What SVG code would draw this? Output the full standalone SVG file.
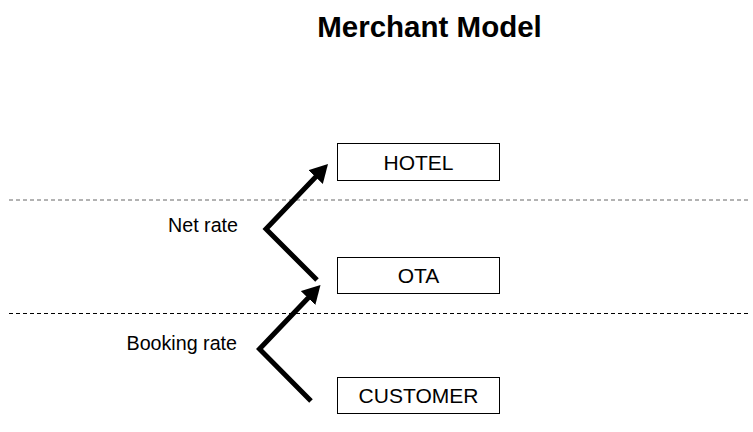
<svg xmlns="http://www.w3.org/2000/svg" width="753" height="432" viewBox="0 0 753 432">
<defs>
<style>
.box{fill:#fff;stroke:#000;stroke-width:1}
.bt{font-family:"Liberation Sans",Arial,sans-serif;font-size:21px;fill:#000;text-anchor:middle}
.lbl{font-family:"Liberation Sans",Arial,sans-serif;font-size:19.7px;fill:#000}
.title{font-family:"Liberation Sans",Arial,sans-serif;font-size:29.5px;font-weight:bold;fill:#000;text-anchor:middle}
.sep{stroke:#000;stroke-width:1;stroke-dasharray:4,3;fill:none}
.arr{fill:none;stroke:#000;stroke-width:5;stroke-linejoin:miter;marker-end:url(#ah)}
</style>
<marker id="ah" markerUnits="userSpaceOnUse" markerWidth="20" markerHeight="22" refX="8" refY="10" orient="auto">
<path d="M0,0 L18,10 L0,20 z" fill="#000"/>
</marker>
</defs>
<rect width="753" height="432" fill="#fff"/>
<text class="title" x="429.5" y="37">Merchant Model</text>
<g id="separators">
<line class="sep" x1="9" y1="200" x2="750" y2="200" stroke-opacity="0.6"/>
<line class="sep" x1="9" y1="313.5" x2="750" y2="313.5"/>
</g>
<g id="connectors">
<polyline class="arr" points="317,280 266,229 321.1,171.2"/>
<polyline class="arr" points="311,401 259.5,349 313.6,292.2"/>
<text class="lbl" x="168" y="232">Net rate</text>
<text class="lbl" x="126.5" y="350">Booking rate</text>
</g>
<g id="hotel">
<rect class="box" x="337.5" y="143.5" width="162" height="37"/>
<text class="bt" x="418.5" y="170">HOTEL</text>
</g>
<g id="ota">
<rect class="box" x="337.5" y="257.5" width="162" height="36"/>
<text class="bt" x="418.5" y="283">OTA</text>
</g>
<g id="customer">
<rect class="box" x="337.5" y="377.5" width="162" height="36"/>
<text class="bt" x="418.5" y="403">CUSTOMER</text>
</g>
</svg>
